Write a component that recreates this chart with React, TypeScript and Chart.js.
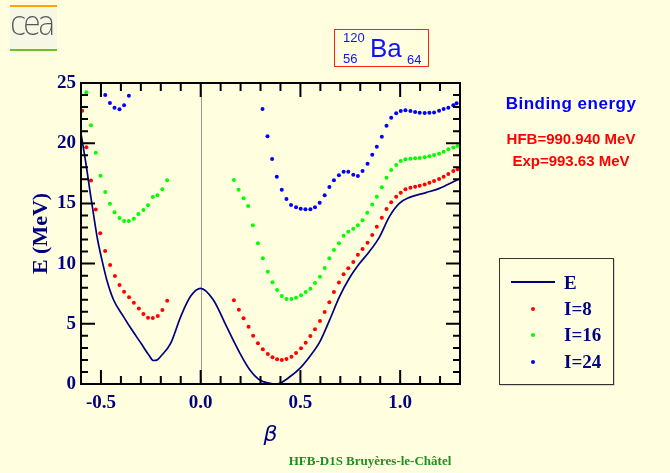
import React, { useEffect, useRef } from "react";
import { Chart, registerables } from "chart.js";

Chart.register(...registerables);

// ---------- data ----------
const xTickValues = [-0.5, 0, 0.5, 1.0];
const yTickValues = [0, 5, 10, 15, 20, 25];

const betaE = [-0.6, -0.578, -0.553, -0.528, -0.517, -0.495, -0.47, -0.437, -0.387, -0.345, -0.3, -0.26, -0.237, -0.22, -0.2, -0.15, -0.1, -0.05, 0, 0.063, 0.13, 0.197, 0.247, 0.296, 0.347, 0.372, 0.396, 0.447, 0.497, 0.546, 0.597, 0.646, 0.696, 0.746, 0.796, 0.846, 0.896, 0.946, 0.996, 1.047, 1.13, 1.197, 1.28, 1.3];
const energyE = [20.8, 18.6, 15.8, 13.1, 12.0, 10.3, 8.6, 7.0, 5.6, 4.5, 3.4, 2.4, 1.95, 1.98, 2.3, 3.4, 5.6, 7.3, 7.95, 7.0, 4.76, 2.55, 1.16, 0.33, 0.06, 0.0, 0.06, 0.6, 1.3, 2.27, 3.5, 5.3, 7.25, 8.8, 10.0, 11.0, 12.2, 13.9, 15.0, 15.5, 15.9, 16.25, 16.9, 17.05];

const betaI8 = [-0.594, -0.573, -0.55, -0.526, -0.5035, -0.479, -0.454, -0.43, -0.407, -0.384, -0.359, -0.335, -0.31, -0.287, -0.264, -0.24, -0.215, -0.192, -0.168,
  0.1665, 0.1915, 0.215, 0.24, 0.263, 0.287, 0.3115, 0.3365, 0.36, 0.383, 0.4065, 0.43, 0.455, 0.478, 0.503, 0.5265, 0.55, 0.573, 0.598, 0.6215, 0.645, 0.668, 0.693, 0.7165, 0.74, 0.765, 0.788, 0.8115, 0.8365, 0.86, 0.883, 0.908, 0.9315, 0.955, 0.98, 1.003, 1.0265, 1.0515, 1.075, 1.098, 1.123, 1.1465, 1.17, 1.195, 1.218, 1.2415, 1.2665, 1.288];
const energyI8 = [22.7, 19.66, 16.9, 14.5, 12.52, 11.05, 9.88, 8.97, 8.22, 7.67, 7.2, 6.75, 6.28, 5.81, 5.51, 5.48, 5.65, 6.15, 6.92,
  6.95, 6.17, 5.46, 4.76, 4.01, 3.38, 2.88, 2.49, 2.22, 2.05, 1.99, 2.08, 2.27, 2.57, 2.96, 3.43, 3.99, 4.54, 5.23, 5.98, 6.79, 7.64, 8.42, 9.11, 9.61, 10.13, 10.74, 11.21, 11.74, 12.38, 13.07, 13.81, 14.53, 15.09, 15.56, 15.89, 16.17, 16.3, 16.39, 16.47, 16.58, 16.72, 16.86, 17.03, 17.22, 17.44, 17.69, 17.83];

const betaI16 = [-0.5735, -0.55, -0.526, -0.502, -0.4785, -0.455, -0.432, -0.407, -0.384, -0.36, -0.335, -0.312, -0.287, -0.264, -0.24, -0.217, -0.192, -0.168,
  0.1665, 0.19, 0.215, 0.238, 0.2615, 0.287, 0.3115, 0.3365, 0.36, 0.383, 0.4065, 0.43, 0.455, 0.478, 0.503, 0.5265, 0.55, 0.573, 0.598, 0.6215, 0.645, 0.668, 0.693, 0.7165, 0.74, 0.765, 0.788, 0.8115, 0.835, 0.86, 0.883, 0.908, 0.9315, 0.955, 0.98, 1.003, 1.0265, 1.0515, 1.075, 1.098, 1.123, 1.1465, 1.17, 1.195, 1.218, 1.2415, 1.2665, 1.287];
const energyI16 = [24.23, 21.5, 19.2, 17.3, 15.95, 14.98, 14.26, 13.79, 13.54, 13.54, 13.73, 14.12, 14.45, 14.84, 15.53, 15.67, 16.17, 16.92,
  16.94, 16.14, 15.42, 14.78, 13.18, 11.7, 10.44, 9.33, 8.45, 7.81, 7.31, 7.06, 7.06, 7.17, 7.37, 7.64, 7.92, 8.39, 8.91, 9.63, 10.44, 11.13, 11.69, 12.32, 12.65, 12.9, 13.18, 13.6, 14.23, 14.9, 15.56, 16.34, 17.14, 17.77, 18.19, 18.52, 18.66, 18.71, 18.74, 18.77, 18.83, 18.91, 19.02, 19.13, 19.29, 19.49, 19.65, 19.77];

const betaI24 = [-0.4785, -0.455, -0.432, -0.407, -0.384, -0.36,
  0.31, 0.335, 0.358, 0.3815, 0.4065, 0.43, 0.453, 0.478, 0.5015, 0.525, 0.55, 0.573, 0.5965, 0.6215, 0.645, 0.668, 0.693, 0.7165, 0.74, 0.765, 0.788, 0.8115, 0.8365, 0.86, 0.883, 0.908, 0.9315, 0.955, 0.98, 1.003, 1.0265, 1.0515, 1.075, 1.098, 1.123, 1.1465, 1.17, 1.195, 1.218, 1.2415, 1.2665, 1.283];
const energyI24 = [24.0, 23.34, 22.95, 22.82, 23.15, 23.95,
  22.84, 20.57, 18.69, 17.22, 16.14, 15.37, 14.87, 14.68, 14.56, 14.51, 14.51, 14.68, 15.06, 15.67, 16.36, 16.92, 17.33, 17.63, 17.63, 17.38, 17.28, 17.69, 18.3, 19.05, 19.71, 20.54, 21.45, 22.12, 22.48, 22.67, 22.73, 22.67, 22.59, 22.53, 22.51, 22.53, 22.56, 22.7, 22.84, 22.95, 23.15, 23.31];

const seriesNames = ["E", "I=8", "I=16", "I=24"];

// ---------- styles ----------
const NAVY = "#000080";
const BG = "#FFFFDF";
const SERIF = "'Liberation Serif', 'Times New Roman', serif";
const SANS = "'Liberation Sans', Arial, sans-serif";

const pts = (xs: number[], ys: number[]) => xs.map((x, i) => ({ x, y: ys[i] }));

const framePlugin = {
  id: "frameTicks",
  beforeDatasetsDraw(chart: any) {
    const { ctx, chartArea: a, scales } = chart;
    const x0 = scales.x.getPixelForValue(0);
    ctx.save();
    ctx.strokeStyle = "#999999";
    ctx.lineWidth = 1;
    ctx.beginPath();
    ctx.moveTo(Math.round(x0) + 0.5, a.top);
    ctx.lineTo(Math.round(x0) + 0.5, a.bottom);
    ctx.stroke();
    ctx.restore();
  },
  afterDatasetsDraw(chart: any) {
    const { ctx, chartArea: a, scales } = chart;
    ctx.save();
    ctx.strokeStyle = "#000000";
    ctx.lineWidth = 2;
    ctx.strokeRect(a.left, a.top, a.right - a.left, a.bottom - a.top);
    ctx.beginPath();
    for (let i = -5; i <= 12; i++) {
      const px = scales.x.getPixelForValue(i / 10);
      const len = i % 5 === 0 ? 14 : 8;
      ctx.moveTo(px, a.bottom);
      ctx.lineTo(px, a.bottom - len);
      ctx.moveTo(px, a.top);
      ctx.lineTo(px, a.top + len);
    }
    for (let j = 1; j <= 24; j++) {
      const py = scales.y.getPixelForValue(j);
      const len = j % 5 === 0 ? 14 : 7;
      ctx.moveTo(a.left, py);
      ctx.lineTo(a.left + len, py);
      ctx.moveTo(a.right, py);
      ctx.lineTo(a.right - len, py);
    }
    ctx.stroke();
    ctx.restore();
  },
};

export default function App() {
  const ref = useRef<HTMLCanvasElement | null>(null);

  useEffect(() => {
    if (!ref.current) return;
    const tickFont = { family: SERIF, size: 19, weight: "bold" as const };
    const chart = new Chart(ref.current, {
      type: "scatter",
      data: {
        datasets: [
          {
            label: seriesNames[0],
            data: pts(betaE, energyE),
            showLine: true,
            pointRadius: 0,
            borderColor: NAVY,
            borderWidth: 1.7,
            cubicInterpolationMode: "monotone",
          },
          {
            label: seriesNames[1],
            data: pts(betaI8, energyI8),
            showLine: false,
            pointRadius: 2,
            pointBorderWidth: 0,
            backgroundColor: "#ff0000",
          },
          {
            label: seriesNames[2],
            data: pts(betaI16, energyI16),
            showLine: false,
            pointRadius: 2,
            pointBorderWidth: 0,
            backgroundColor: "#00ff00",
          },
          {
            label: seriesNames[3],
            data: pts(betaI24, energyI24),
            showLine: false,
            pointRadius: 2,
            pointBorderWidth: 0,
            backgroundColor: "#0000ff",
          },
        ],
      },
      options: {
        animation: false,
        responsive: false,
        devicePixelRatio: 1,
        layout: { padding: { left: 0, top: 83, right: 210, bottom: 0 } },
        plugins: { legend: { display: false }, tooltip: { enabled: false } },
        scales: {
          x: {
            type: "linear",
            min: -0.6,
            max: 1.3,
            afterBuildTicks: (s: any) => {
              s.ticks = xTickValues.map((v) => ({ value: v }));
            },
            afterFit: (s: any) => {
              s.height = 89;
            },
            ticks: {
              callback: (v: any) => Number(v).toFixed(1),
              font: tickFont,
              color: NAVY,
              padding: 8,
              maxRotation: 0,
              autoSkip: false,
            },
            grid: { display: false, drawTicks: false },
            border: { display: false },
            title: {
              display: true,
              text: "β",
              color: NAVY,
              font: { family: "'DejaVu Sans', sans-serif", size: 22, style: "italic" },
              padding: { top: 0, bottom: 25 },
            },
          },
          y: {
            type: "linear",
            min: 0,
            max: 25,
            afterBuildTicks: (s: any) => {
              s.ticks = yTickValues.map((v) => ({ value: v }));
            },
            afterFit: (s: any) => {
              s.width = 81;
            },
            ticks: {
              callback: (v: any) => String(v),
              font: tickFont,
              color: NAVY,
              padding: 5,
              autoSkip: false,
            },
            grid: { display: false, drawTicks: false },
            border: { display: false },
            title: {
              display: true,
              text: "E (MeV)",
              color: NAVY,
              font: { family: SERIF, size: 22, weight: "bold" },
              padding: { top: 28, bottom: 0 },
            },
          },
        },
      },
      plugins: [framePlugin],
    } as any);
    return () => chart.destroy();
  }, []);

  const abs = (s: React.CSSProperties): React.CSSProperties => ({ position: "absolute", margin: 0, whiteSpace: "nowrap", ...s });

  return (
    <div style={{ position: "fixed", left: 0, top: 0, width: 670, height: 473, background: BG, overflow: "hidden" }}>
      <canvas ref={ref} width={670} height={473} style={{ position: "absolute", left: 0, top: 0, width: 670, height: 473 }} />

      {/* logo */}
      <div style={abs({ left: 10, top: 5, width: 47, height: 46, background: "#F7F7E6", borderTop: "2px solid #FFA500", borderBottom: "2px solid #6CC21E", boxSizing: "border-box" })} />
      <div style={abs({ left: 10, top: 7, fontFamily: "'DejaVu Sans', sans-serif", fontWeight: 200, fontSize: 33, lineHeight: "33px", color: "#555555", letterSpacing: -4, transform: "scaleX(0.9)", transformOrigin: "left" })}>cea</div>

      {/* nucleus box */}
      <div style={abs({ left: 334, top: 29, width: 95, height: 38, border: "1px solid #ff2020", boxSizing: "border-box" })} />
      <div style={abs({ left: 343, top: 31, fontFamily: SANS, fontSize: 13, lineHeight: "13px", color: "#1010ff" })}>120</div>
      <div style={abs({ left: 343, top: 51.6, fontFamily: SANS, fontSize: 13, lineHeight: "13px", color: "#1010ff" })}>56</div>
      <div style={abs({ left: 370, top: 34.6, fontFamily: SANS, fontSize: 26, lineHeight: "26px", color: "#1010ff" })}>Ba</div>
      <div style={abs({ left: 407, top: 53.3, fontFamily: SANS, fontSize: 13, lineHeight: "13px", color: "#1010ff" })}>64</div>

      {/* binding energy */}
      <div style={abs({ left: 471, top: 94.5, width: 200, textAlign: "center", fontFamily: SANS, fontWeight: "bold", fontSize: 17, lineHeight: "17px", letterSpacing: 0.5, color: "#0000ff" })}>Binding energy</div>
      <div style={abs({ left: 471, top: 131.4, width: 200, textAlign: "center", fontFamily: SANS, fontWeight: "bold", fontSize: 15, lineHeight: "15px", color: "#ff0000" })}>HFB=990.940 MeV</div>
      <div style={abs({ left: 471, top: 153, width: 200, textAlign: "center", fontFamily: SANS, fontWeight: "bold", fontSize: 15, lineHeight: "15px", color: "#ff0000" })}>Exp=993.63 MeV</div>

      {/* legend */}
      <div style={abs({ left: 499, top: 258, width: 115, height: 127, border: "1px solid #333", boxSizing: "border-box", boxShadow: "1px 1px 0 #d8d8c0" })} />
      <div style={abs({ left: 511, top: 281, width: 44, height: 2, background: NAVY })} />
      <div style={abs({ left: 530.5, top: 306.5, width: 4, height: 4, borderRadius: 2, background: "#ff0000" })} />
      <div style={abs({ left: 530.5, top: 333, width: 4, height: 4, borderRadius: 2, background: "#00ff00" })} />
      <div style={abs({ left: 530.5, top: 359.5, width: 4, height: 4, borderRadius: 2, background: "#0000ff" })} />
      {[282.5, 309, 335, 361.7].map((cy, i) => (
        <div key={i} style={abs({ left: 564, top: cy - 9.6, fontFamily: SERIF, fontWeight: "bold", fontSize: 19, lineHeight: "19px", color: NAVY })}>
          {seriesNames[i]}
        </div>
      ))}

      {/* footer */}
      <div style={abs({ left: 270, top: 453.7, width: 200, textAlign: "center", fontFamily: SERIF, fontWeight: "bold", fontSize: 13, lineHeight: "13px", color: "#1f8f1f" })}>
        HFB-D1S Bruyères-le-Châtel
      </div>
    </div>
  );
}
